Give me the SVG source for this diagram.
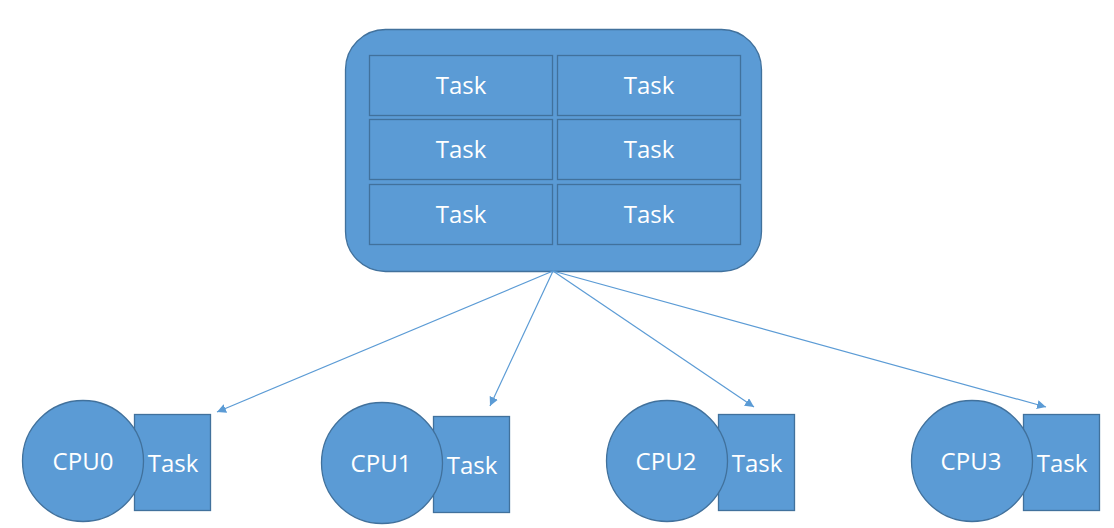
<svg xmlns="http://www.w3.org/2000/svg" width="1114" height="528" viewBox="0 0 1114 528">
<style>
.shape{fill:#5B9BD5;stroke:#41719C;stroke-width:1.3}
.lbl{font-family:"Open Sans","Noto Sans","Liberation Sans",sans-serif;font-size:24px;fill:#FFFFFF;text-anchor:middle}
.conn{fill:none;stroke:#5B9BD5;stroke-width:1.2}
</style>
<defs>
<marker id="arr" viewBox="0 0 10 10" refX="10" refY="5" markerWidth="9" markerHeight="9" markerUnits="userSpaceOnUse" orient="auto">
<path d="M0,0 L10,5 L0,10 Z" fill="#5B9BD5"/>
</marker>
</defs>
<rect width="1114" height="528" fill="#FFFFFF"/>
<g id="queue">
<rect class="shape" x="345.5" y="29.5" width="416" height="242" rx="40" ry="40"/>
<rect class="shape" x="369.5" y="55.5" width="183" height="60"/>
<text class="lbl" x="461" y="94">Task</text>
<rect class="shape" x="557.5" y="55.5" width="183" height="60"/>
<text class="lbl" x="649" y="94">Task</text>
<rect class="shape" x="369.5" y="119.5" width="183" height="60"/>
<text class="lbl" x="461" y="158">Task</text>
<rect class="shape" x="557.5" y="119.5" width="183" height="60"/>
<text class="lbl" x="649" y="158">Task</text>
<rect class="shape" x="369.5" y="184.5" width="183" height="60"/>
<text class="lbl" x="461" y="223">Task</text>
<rect class="shape" x="557.5" y="184.5" width="183" height="60"/>
<text class="lbl" x="649" y="223">Task</text>
</g>
<g id="connectors">
<line class="conn" x1="553" y1="271" x2="217" y2="412" marker-end="url(#arr)"/>
<line class="conn" x1="553" y1="271" x2="490" y2="406" marker-end="url(#arr)"/>
<line class="conn" x1="553" y1="271" x2="754" y2="407" marker-end="url(#arr)"/>
<line class="conn" x1="553" y1="271" x2="1046" y2="407" marker-end="url(#arr)"/>
</g>
<g id="cpu0">
<rect class="shape" x="134.5" y="414.5" width="76" height="96"/>
<circle class="shape" cx="83" cy="461" r="60.5"/>
<text class="lbl" x="83" y="470">CPU0</text>
<text class="lbl" x="173" y="472">Task</text>
</g>
<g id="cpu1">
<rect class="shape" x="433.5" y="416.5" width="76" height="96"/>
<circle class="shape" cx="382" cy="463" r="60.5"/>
<text class="lbl" x="381" y="472">CPU1</text>
<text class="lbl" x="472" y="474">Task</text>
</g>
<g id="cpu2">
<rect class="shape" x="718.5" y="414.5" width="76" height="96"/>
<circle class="shape" cx="667" cy="461" r="60.5"/>
<text class="lbl" x="666" y="470">CPU2</text>
<text class="lbl" x="757" y="472">Task</text>
</g>
<g id="cpu3">
<rect class="shape" x="1023.5" y="414.5" width="76" height="96"/>
<circle class="shape" cx="972" cy="461" r="60.5"/>
<text class="lbl" x="971" y="470">CPU3</text>
<text class="lbl" x="1062" y="472">Task</text>
</g>
</svg>
